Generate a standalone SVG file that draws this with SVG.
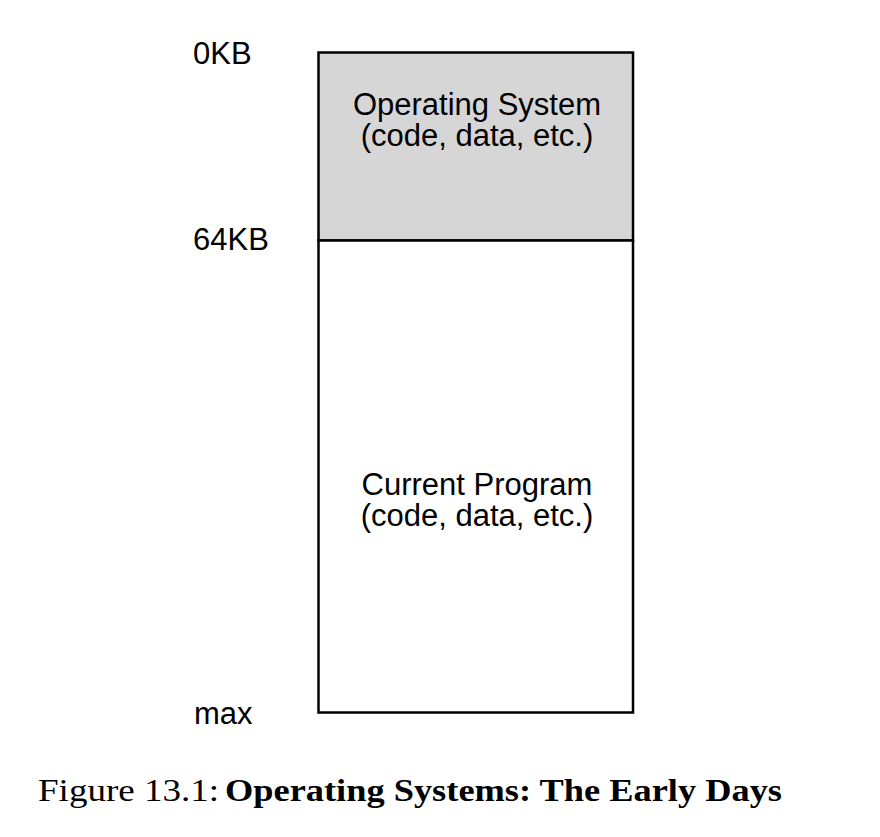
<svg xmlns="http://www.w3.org/2000/svg" width="880" height="837" viewBox="0 0 880 837">
<style>
.lbl{font-family:"Liberation Sans",Arial,Helvetica,sans-serif;font-size:31px;fill:#000}
.mid{text-anchor:middle}
.cap{font-family:"Liberation Serif","Times New Roman",serif;font-size:32px;fill:#000}
.box{stroke:#000;stroke-width:2.5}
</style>
<rect width="880" height="837" fill="#fff"/>
<g id="os">
<rect class="box" x="318.5" y="52.5" width="314.5" height="188" fill="#d6d6d6"/>
<text class="lbl mid" x="477" y="115">Operating System</text>
<text class="lbl mid" x="477" y="146">(code, data, etc.)</text>
</g>
<g id="program">
<rect class="box" x="318.5" y="240.5" width="314.5" height="472" fill="#fff"/>
<text class="lbl mid" x="477" y="495">Current Program</text>
<text class="lbl mid" x="477" y="526">(code, data, etc.)</text>
</g>
<g id="connectors"></g>
<g id="labels">
<text class="lbl" x="193" y="64">0KB</text>
<text class="lbl" x="193" y="250">64KB</text>
<text class="lbl" x="194" y="724">max</text>
</g>
<g id="caption">
<text class="cap" x="38" y="801" textLength="181" lengthAdjust="spacingAndGlyphs">Figure 13.1:</text>
<text class="cap" x="225" y="801" font-weight="bold" textLength="557" lengthAdjust="spacingAndGlyphs">Operating Systems: The Early Days</text>
</g>
</svg>
